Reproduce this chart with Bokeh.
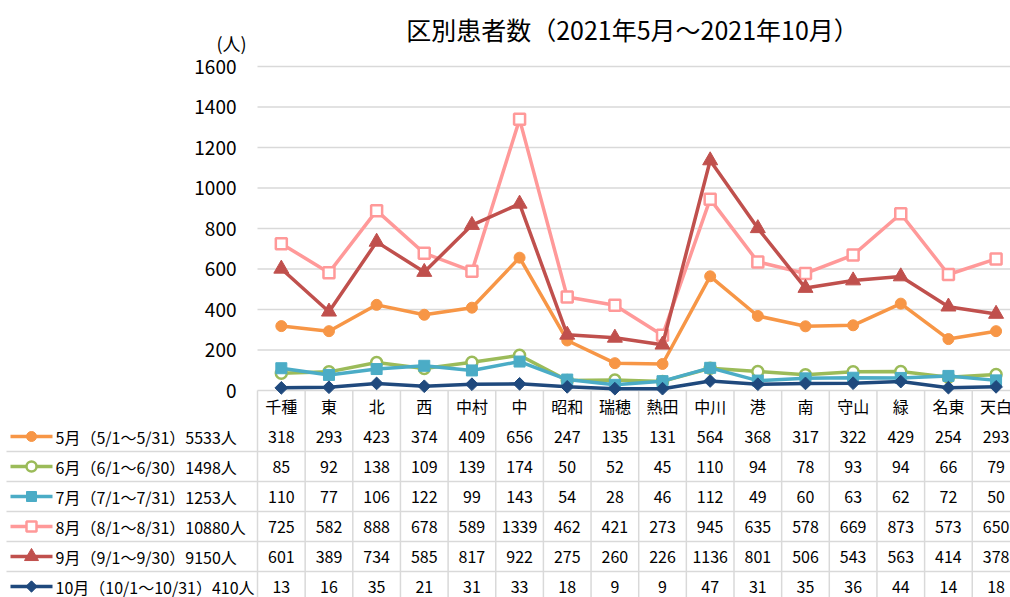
from bokeh.plotting import figure
from bokeh.models import Range1d
from bokeh.core.properties import value
from bokeh.embed import file_html
from bokeh.resources import INLINE

# ---------------- data ----------------
categories = ["千種", "東", "北", "西", "中村", "中", "昭和", "瑞穂", "熱田",
              "中川", "港", "南", "守山", "緑", "名東", "天白"]
may = [318, 293, 423, 374, 409, 656, 247, 135, 131, 564, 368, 317, 322, 429, 254, 293]
jun = [85, 92, 138, 109, 139, 174, 50, 52, 45, 110, 94, 78, 93, 94, 66, 79]
jul = [110, 77, 106, 122, 99, 143, 54, 28, 46, 112, 49, 60, 63, 62, 72, 50]
aug = [725, 582, 888, 678, 589, 1339, 462, 421, 273, 945, 635, 578, 669, 873, 573, 650]
sep = [601, 389, 734, 585, 817, 922, 275, 260, 226, 1136, 801, 506, 543, 563, 414, 378]
octo = [13, 16, 35, 21, 31, 33, 18, 9, 9, 47, 31, 35, 36, 44, 14, 18]
series_names = ["5月（5/1～5/31）5533人", "6月（6/1～6/30）1498人",
                "7月（7/1～7/31）1253人", "8月（8/1～8/31）10880人",
                "9月（9/1～9/30）9150人", "10月（10/1～10/31）410人"]
yticks = [0, 200, 400, 600, 800, 1000, 1200, 1400, 1600]
title_text = "区別患者数（2021年5月～2021年10月）"
unit_text = "(人)"

# ---------------- styles / layout ----------------
series = [may, jun, jul, aug, sep, octo]
colors = ["#F79646", "#9BBB59", "#4BACC6", "#FF9999", "#C0504D", "#1F497D"]
markers = ["circle", "circle", "square", "square", "triangle", "square"]
fills = [None, "white", None, "white", None, None]
msizes = [11, 11, 11, 11, 15, 9]
mangles = [0, 0, 0, 0, 0, 0.785398]
FONT = value("Noto Sans CJK JP")

W, H = 1010, 597
PAGE_L, PAGE_T = 0, 0
RIGHT, BOTTOM = PAGE_L + W, PAGE_T + H
X0 = 257.0        # px of plot area left
CW = 47.65        # px per category
Y0 = 390.0        # px of value 0
PPU = (390.0 - 66.0) / 1600.0  # px per unit

p = figure(width=W, height=H,
           x_range=Range1d((PAGE_L - X0) / CW, (RIGHT - X0) / CW),
           y_range=Range1d((Y0 - BOTTOM) / PPU, (Y0 - PAGE_T) / PPU),
           x_axis_location=None, y_axis_location=None,
           output_backend="svg", toolbar_location=None, min_border=0)
p.grid.visible = False
p.outline_line_color = None
p.background_fill_color = "white"
p.border_fill_color = "white"
p.extra_x_ranges = {"px": Range1d(PAGE_L, RIGHT)}
p.extra_y_ranges = {"px": Range1d(BOTTOM, PAGE_T)}

n = len(categories)
xs = [i + 0.5 for i in range(n)]

# gridlines
p.segment(x0=[0] * len(yticks), x1=[n + 1] * len(yticks), y0=yticks, y1=yticks,
          line_color="#D9D9D9", line_width=1.3)

# y tick labels
p.text(x=[236] * len(yticks), y=yticks, text=[str(t) for t in yticks],
       x_range_name="px", text_align="right", text_baseline="middle",
       text_font=FONT, text_font_size="19px", text_color="#000000")

# unit label and title
p.text(x=[231], y=[42], text=[unit_text], x_range_name="px", y_range_name="px",
       text_align="center", text_baseline="middle", text_font=FONT,
       text_font_size="18px", text_color="#000000")
p.text(x=[632], y=[28], text=[title_text], x_range_name="px", y_range_name="px",
       text_align="center", text_baseline="middle", text_font=FONT,
       text_font_size="25px", text_color="#000000")

# table lines
TABLE_TOP = 390
HEADER_Y = 405
ROW_Y = [436 + 30.0 * i for i in range(len(series))]
p.segment(x0=list(range(n + 1)), x1=list(range(n + 1)),
          y0=[TABLE_TOP] * (n + 1), y1=[BOTTOM + 2] * (n + 1),
          y_range_name="px", line_color="#D9D9D9", line_width=1.5)
p.segment(x0=[6] * (len(series) - 1), x1=[RIGHT + 2] * (len(series) - 1),
          y0=[y + 15 for y in ROW_Y[:-1]], y1=[y + 15 for y in ROW_Y[:-1]],
          x_range_name="px", y_range_name="px", line_color="#D9D9D9", line_width=1.5)

# series
for vals, c, m, f, s, a in zip(series, colors, markers, fills, msizes, mangles):
    p.line(x=xs, y=vals, line_color=c, line_width=3.5)
    p.scatter(x=xs, y=vals, marker=m, size=s, angle=a,
              fill_color=(f if f else c), line_color=c,
              line_width=(2.5 if f else 1))

# header row
p.text(x=xs, y=[HEADER_Y] * n, text=categories, y_range_name="px",
       text_align="center", text_baseline="middle", text_font=FONT,
       text_font_size="16px", text_color="#000000")

# table rows with legend keys
for r, (vals, c, m, f, s, a, name) in enumerate(zip(series, colors, markers, fills,
                                                      msizes, mangles, series_names)):
    ry = ROW_Y[r]
    p.text(x=xs, y=[ry] * n, text=[str(v) for v in vals], y_range_name="px",
           text_align="center", text_baseline="middle", text_font=FONT,
           text_font_size="16px", text_color="#000000")
    p.line(x=[10, 52], y=[ry, ry], x_range_name="px", y_range_name="px",
           line_color=c, line_width=3.5)
    p.scatter(x=[31], y=[ry], x_range_name="px", y_range_name="px", marker=m,
              size=s - 1, angle=a, fill_color=(f if f else c), line_color=c,
              line_width=(2.5 if f else 1))
    p.text(x=[55], y=[ry], text=[name], x_range_name="px", y_range_name="px",
           text_align="left", text_baseline="middle", text_font=FONT,
           text_font_size="16px", text_color="#000000")

open("out.html", "w").write(file_html(p, INLINE))
